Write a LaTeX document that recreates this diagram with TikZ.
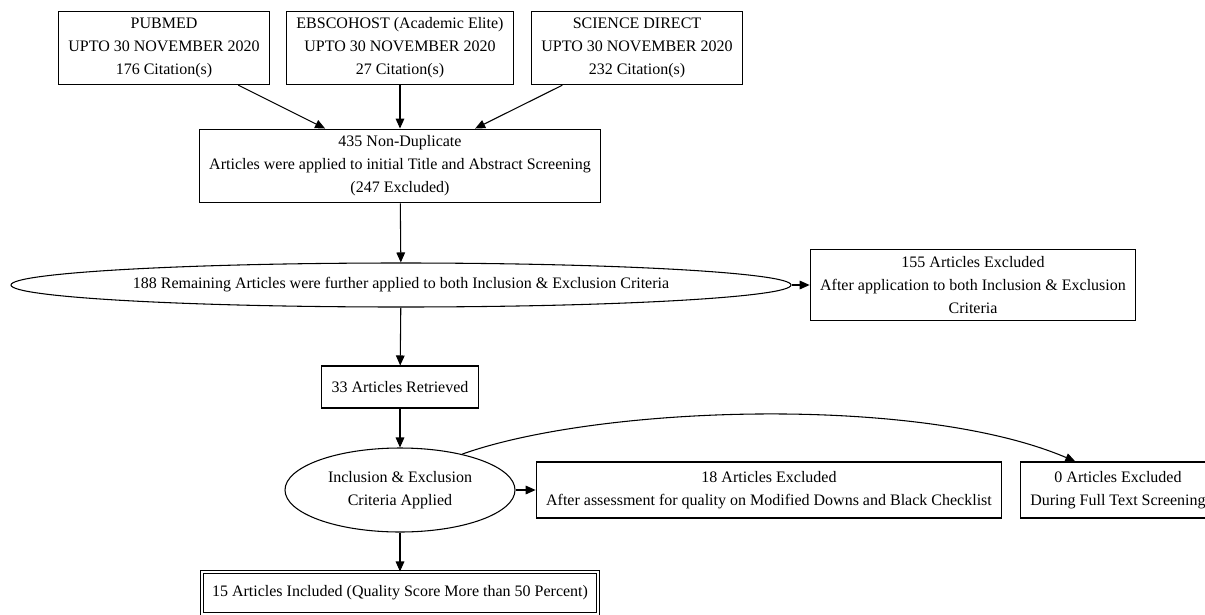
\documentclass[tikz,border=0pt]{standalone}
\usepackage{fontspec}
\setmainfont{Liberation Serif}
\usepackage{tikz}
\usetikzlibrary{arrows.meta,shapes.geometric}
\tikzset{
  stage/.style={draw, line width=0.8pt, align=center, inner xsep=7.5pt, inner ysep=5pt, minimum height=31.5pt},
  twoline/.style={minimum height=42pt},
  oval/.style={draw, line width=0.8pt, ellipse, align=center, inner sep=0pt},
  flow/.style={line width=0.8pt, -{Triangle[length=7.5pt,width=6.5pt]}},
}

\begin{document}
\begin{tikzpicture}[x=0.75pt, y=-0.75pt, font=\fontsize{12}{17.25}\selectfont]
      \useasboundingbox (0,0) rectangle (1205,614);
      % --- databases searched ---
      \node[stage] (pubmed) at (164,48) {PUBMED\\UPTO 30 NOVEMBER 2020\\176 Citation(s)};
      \node[stage] (ebsco)  at (400,48) {EBSCOHOST (Academic Elite)\\UPTO 30 NOVEMBER 2020\\27 Citation(s)};
      \node[stage] (scidir) at (637,48) {SCIENCE DIRECT\\UPTO 30 NOVEMBER 2020\\232 Citation(s)};
      % title and abstract screening
      \node[stage] (nondup) at (400,166) {435 Non-Duplicate\\Articles were applied to initial Title and Abstract Screening\\(247 Excluded)};
      % inclusion / exclusion criteria
      \node[oval, minimum width=585pt, minimum height=33pt] (remain) at (401,285)
        {188 Remaining Articles were further applied to both Inclusion \& Exclusion Criteria};
      \node[stage] (excla) at (973,285) {155 Articles Excluded\\After application to both Inclusion \& Exclusion\\Criteria};
      \node[stage] (retr) at (400,387) {33 Articles Retrieved};
      % quality assessment
      \node[oval, minimum width=172.5pt, minimum height=63pt] (incl) at (400,490)
        {Inclusion \& Exclusion\\Criteria Applied};
      \node[stage, twoline] (exclb) at (769,490) {18 Articles Excluded\\After assessment for quality on Modified Downs and Black Checklist};
      \node[stage, twoline] (exclc) at (1118,490) {0 Articles Excluded\\During Full Text Screening};
      \node[stage, double, double distance=2pt] (final) at (400,593)
        {15 Articles Included (Quality Score More than 50 Percent)};
      % connectors
      \foreach \src in {pubmed, ebsco, scidir}{
        \draw[flow] (\src) -- (nondup);
      }
      \draw[flow] (nondup) -- (remain);
      \draw[flow] (remain) -- (excla);
      \draw[flow] (remain) -- (retr);
      \draw[flow] (retr) -- (incl);
      \draw[flow] (incl) -- (exclb);
      \draw[flow] (incl.30) .. controls (600,405) and (920,395) .. ([xshift=-32pt]exclc.north);
      \draw[flow] (incl) -- (final);
    \end{tikzpicture}
\end{document}
